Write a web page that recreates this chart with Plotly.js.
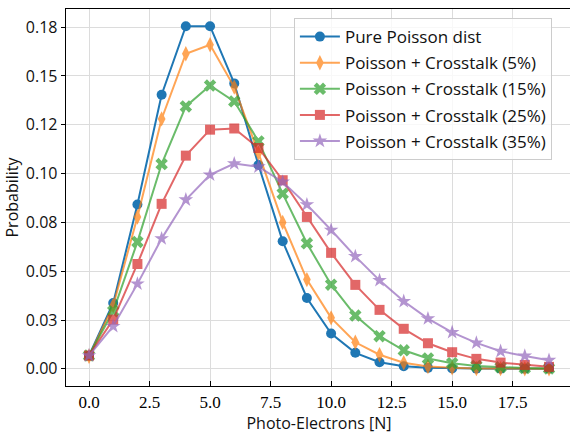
<!DOCTYPE html>
<html>
<head>
<meta charset="utf-8">
<script src="https://cdn.plot.ly/plotly-3.0.1.min.js"></script>
<style>
html,body{margin:0;padding:0;overflow:hidden;background:#fff;width:570px;height:434px;}
#chart{width:580px;height:434px;}
</style>
</head>
<body>
<div id="chart"></div>
<script>
const photoElectrons = [0,1,2,3,4,5,6,7,8,9,10,11,12,13,14,15,16,17,18,19];
const purePoisson = [0.0067,0.0337,0.0842,0.1404,0.1755,0.1755,0.1462,0.1044,0.0653,0.0363,0.0181,0.0082,0.0034,0.0013,0.0005,0.0002,0.0001,0.0000,0.0000,0.0000];
const crosstalk5 = [0.0064,0.0324,0.0778,0.1280,0.1614,0.1660,0.1443,0.1105,0.0750,0.0457,0.0261,0.0136,0.0072,0.0031,0.0012,0.0005,0.0002,0.0001,0.0000,0.0000];
const crosstalk15 = [0.0068,0.0295,0.0650,0.1049,0.1344,0.1451,0.1370,0.1165,0.0897,0.0643,0.0431,0.0273,0.0167,0.0095,0.0053,0.0029,0.0015,0.0008,0.0004,0.0002];
const crosstalk25 = [0.0068,0.0252,0.0537,0.0845,0.1092,0.1225,0.1231,0.1131,0.0966,0.0778,0.0594,0.0430,0.0302,0.0205,0.0131,0.0085,0.0051,0.0032,0.0020,0.0010];
const crosstalk35 = [0.0068,0.0218,0.0435,0.0667,0.0866,0.0994,0.1051,0.1035,0.0957,0.0841,0.0711,0.0576,0.0453,0.0346,0.0257,0.0187,0.0133,0.0090,0.0066,0.0044];
const seriesNames = ["Pure Poisson dist","Poisson + Crosstalk (5%)","Poisson + Crosstalk (15%)","Poisson + Crosstalk (25%)","Poisson + Crosstalk (35%)"];
const xTickVals = [0,2.5,5,7.5,10,12.5,15,17.5];
const xTickText = ["0.0","2.5","5.0","7.5","10.0","12.5","15.0","17.5"];
const yTickVals = [0,0.025,0.05,0.075,0.1,0.125,0.15,0.175];
const yTickText = ["0.00","0.03","0.05","0.08","0.10","0.12","0.15","0.18"];

const allSeries = [purePoisson, crosstalk5, crosstalk15, crosstalk25, crosstalk35];
const colors = ["#1f77b4","#ff7f0e","#2ca02c","#d62728","#9467bd"];
const opac = [1,0.7,0.7,0.7,0.7];
const symbols = ["circle","diamond-tall","x","square","star"];
const sizes = [10,11,11,10,11];

const traces = allSeries.map((ys,i)=>({
  x: photoElectrons, y: ys, name: seriesNames[i], type:"scatter", mode:"lines+markers",
  legendgroup: "g"+i, opacity: opac[i],
  line:{color:colors[i], width:2},
  marker:{color:colors[i], symbol:symbols[i], size:sizes[i], line:{width:0}}
}));

const layout = {
  width:580, height:434,
  margin:{l:66, r:8, t:9, b:48},
  paper_bgcolor:"#fff", plot_bgcolor:"#fff",
  showlegend:true,
  legend:{x:0.4504, y:0.976, xanchor:"left", yanchor:"top",
    bgcolor:"rgba(255,255,255,0.8)", bordercolor:"#cccccc", borderwidth:1,
    itemwidth:40,
    font:{family:"Open Sans", size:17, color:"#111"}, tracegroupgap:1},
  xaxis:{range:[-0.95,19.95], tickvals:xTickVals, ticktext:xTickText,
    ticks:"inside", ticklen:5, tickcolor:"#000", tickwidth:1,
    showline:true, mirror:true, linecolor:"#000", linewidth:1.3,
    showgrid:true, gridcolor:"#dcdcdc", gridwidth:1, zeroline:false,
    tickfont:{family:"Liberation Serif", size:17, color:"#000"},
    title:{text:"Photo-Electrons [N]", font:{family:"Open Sans", size:16, color:"#111"}, standoff:6}},
  yaxis:{range:[-0.0088,0.1843], tickvals:yTickVals, ticktext:yTickText,
    ticks:"outside", ticklen:4, tickcolor:"#000", tickwidth:1,
    showline:true, mirror:true, linecolor:"#000", linewidth:1.3,
    showgrid:true, gridcolor:"#dcdcdc", gridwidth:1, zeroline:false,
    tickfont:{family:"Open Sans", size:16, color:"#111"},
    title:{text:"Probability", font:{family:"Open Sans", size:16, color:"#111"}, standoff:3}}
};
Plotly.newPlot("chart", traces, layout, {displayModeBar:false, staticPlot:true});
</script>
</body>
</html>
